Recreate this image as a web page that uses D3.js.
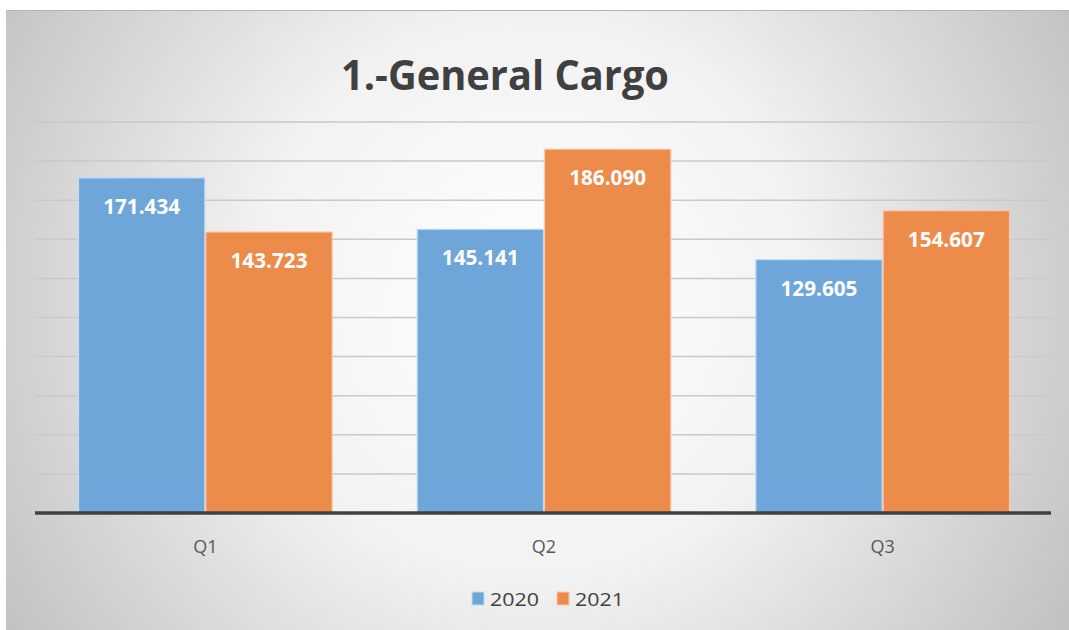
<!DOCTYPE html>
<html>
<head>
<meta charset="utf-8">
<script src="https://cdn.jsdelivr.net/npm/d3@7"></script>
<style>
  body { margin: 0; background: #fff; }
  svg { display: block; }
</style>
</head>
<body>
<script>
const width = 1069;
const height = 630;

const quarters = ["Q1", "Q2", "Q3"];
const years = ["2020", "2021"];
const values2020 = [171434, 145141, 129605];
const values2021 = [143723, 186090, 154607];
const yTicks = [0, 20000, 40000, 60000, 80000, 100000, 120000, 140000, 160000, 180000, 200000];
const colores = { "2020": "#6ea6da", "2021": "#ed8b4b" };

const datos = quarters.map((q, i) => ({
  q: q,
  valores: [
    { anio: "2020", v: values2020[i] },
    { anio: "2021", v: values2021[i] }
  ]
}));

const svg = d3
  .select("body")
  .append("svg")
  .attr("width", width)
  .attr("height", height);

const defs = svg.append("defs");
const grad = defs
  .append("radialGradient")
  .attr("id", "fondo")
  .attr("gradientUnits", "userSpaceOnUse")
  .attr("cx", 530)
  .attr("cy", 300)
  .attr("r", 620);
grad.append("stop").attr("offset", "0").attr("stop-color", "#ffffff");
grad.append("stop").attr("offset", "0.45").attr("stop-color", "#f2f2f2");
grad.append("stop").attr("offset", "1").attr("stop-color", "#c2c2c2");

svg
  .append("rect")
  .attr("x", 6)
  .attr("y", 10)
  .attr("width", width - 6)
  .attr("height", height - 10)
  .attr("fill", "url(#fondo)");
svg
  .append("line")
  .attr("x1", 6)
  .attr("x2", width)
  .attr("y1", 10.5)
  .attr("y2", 10.5)
  .attr("stroke", "#b4b4b4")
  .attr("stroke-width", 1);

const margen = { left: 35, right: 1051, top: 122, bottom: 513 };

const x0 = d3
  .scaleBand()
  .domain(quarters)
  .range([margen.left, 1053])
  .paddingInner(0.248)
  .paddingOuter(0.127);

const x1 = d3.scaleBand().domain(years).range([0, x0.bandwidth()]);

const y = d3.scaleLinear().domain([0, 200000]).range([margen.bottom, margen.top]);

// lineas de cuadricula
svg
  .append("g")
  .selectAll("line")
  .data(yTicks.slice(1))
  .enter()
  .append("line")
  .attr("x1", margen.left)
  .attr("x2", margen.right)
  .attr("y1", (d) => y(d))
  .attr("y2", (d) => y(d))
  .attr("stroke", "#c9c9c9")
  .attr("stroke-width", 1.5);

// barras
const grupos = svg
  .append("g")
  .selectAll("g")
  .data(datos)
  .enter()
  .append("g")
  .attr("transform", (d) => `translate(${x0(d.q)},0)`);

grupos
  .selectAll("rect")
  .data((d) => d.valores)
  .enter()
  .append("rect")
  .attr("x", (d) => x1(d.anio) + 0.5)
  .attr("y", (d) => y(d.v))
  .attr("width", x1.bandwidth() - 1)
  .attr("height", (d) => y(0) - y(d.v))
  .attr("fill", (d) => colores[d.anio])
  .attr("stroke", (d) => (d.anio === "2020" ? "#c4dcf2" : "#f7c9a8"))
  .attr("stroke-width", 1.2);

grupos
  .selectAll("text")
  .data((d) => d.valores)
  .enter()
  .append("text")
  .attr("x", (d) => x1(d.anio) + x1.bandwidth() / 2)
  .attr("y", (d) => y(d.v) + 36)
  .attr("text-anchor", "middle")
  .attr("fill", "#ffffff")
  .attr("font-family", "Open Sans, sans-serif")
  .attr("font-weight", "bold")
  .attr("font-size", 21)
  .attr("textLength", 77)
  .attr("lengthAdjust", "spacingAndGlyphs")
  .text((d) => d3.format(",")(d.v).replace(/,/g, "."));

// eje x
svg
  .append("line")
  .attr("x1", margen.left)
  .attr("x2", margen.right)
  .attr("y1", y(0))
  .attr("y2", y(0))
  .attr("stroke", "#404040")
  .attr("stroke-width", 3.5);

const ejeX = svg
  .append("g")
  .attr("transform", `translate(0,${y(0)})`)
  .call(d3.axisBottom(x0).tickSize(0).tickPadding(27));
ejeX.select(".domain").remove();
ejeX
  .selectAll("text")
  .attr("font-family", "Open Sans, sans-serif")
  .attr("font-size", 18)
  .attr("fill", "#595959");

// titulo
svg
  .append("text")
  .attr("x", 505)
  .attr("y", 90)
  .attr("text-anchor", "middle")
  .attr("font-family", "Open Sans, sans-serif")
  .attr("font-weight", "bold")
  .attr("font-size", 42)
  .attr("fill", "#404040")
  .attr("textLength", 328)
  .attr("lengthAdjust", "spacingAndGlyphs")
  .text("1.-General Cargo");

// leyenda
const leyenda = svg
  .append("g")
  .selectAll("g")
  .data(years)
  .enter()
  .append("g")
  .attr("transform", (d, i) => `translate(${472 + i * 85},592)`);

leyenda
  .append("rect")
  .attr("x", 0)
  .attr("y", 0)
  .attr("width", 12)
  .attr("height", 13)
  .attr("fill", (d) => colores[d])
  .attr("stroke", (d) => (d === "2020" ? "#c4dcf2" : "#f7c9a8"))
  .attr("stroke-width", 1);

leyenda
  .append("text")
  .attr("x", 18)
  .attr("y", 14)
  .attr("font-family", "Open Sans, sans-serif")
  .attr("font-size", 19)
  .attr("fill", "#404040")
  .attr("textLength", 49)
  .attr("lengthAdjust", "spacingAndGlyphs")
  .text((d) => d);
</script>
</body>
</html>
